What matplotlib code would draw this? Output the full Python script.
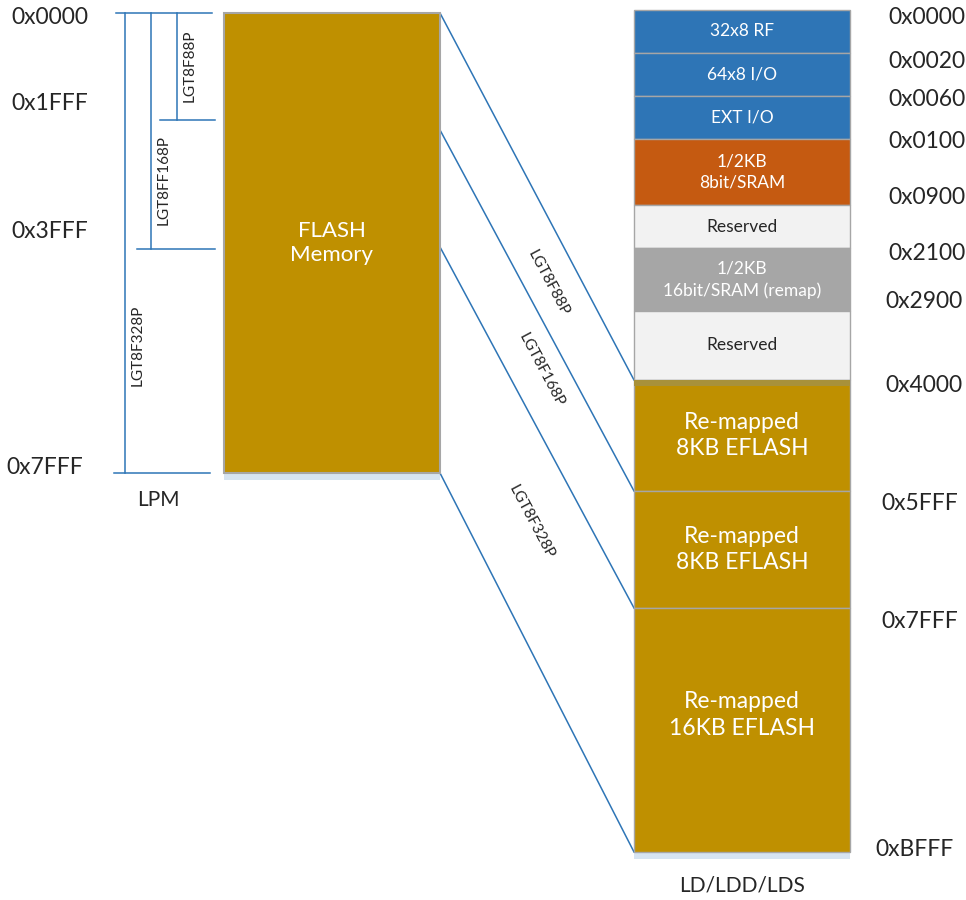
import matplotlib
matplotlib.use("Agg")
import matplotlib.pyplot as plt
from matplotlib.patches import Rectangle

plt.rcParams["font.family"] = ["Lato", "DejaVu Sans"]

# data memory regions (LD/LDD/LDS view)
data_labels = ["32x8 RF", "64x8 I/O", "EXT I/O", "1/2KB\n8bit/SRAM", "Reserved",
               "1/2KB\n16bit/SRAM (remap)", "Reserved",
               "Re-mapped\n8KB EFLASH", "Re-mapped\n8KB EFLASH", "Re-mapped\n16KB EFLASH"]
data_kinds = ["io", "io", "io", "sram", "rsv", "sram16", "rsv", "flash", "flash", "flash"]
data_addrs = ["0x0000", "0x0020", "0x0060", "0x0100", "0x0900", "0x2100", "0x2900",
              "0x4000", "0x5FFF", "0x7FFF", "0xBFFF"]

# program memory (LPM view)
lpm_addrs = ["0x0000", "0x1FFF", "0x3FFF", "0x7FFF"]
parts = ["LGT8F88P", "LGT8FF168P", "LGT8F328P"]
diag_parts = ["LGT8F88P", "LGT8F168P", "LGT8F328P"]

# layout (pixels)
row_edges = [10, 53, 96, 139, 205, 248, 311, 380, 491, 608, 852]
row_text_y = [None] * 9 + [715]
addr_x = [927, 927, 927, 927, 927, 927, 924, 924, 920, 920, 914]
addr_y = [18, 62, 99, 142, 197, 253, 302, 386, 504, 622, 849]
lpm_edges = [13, 120, 249, 473]
lpm_addr_x = [50, 50, 50, 45]
lpm_addr_y = [18, 103, 232, 467]

colors = {"io": "#2E75B6", "sram": "#C55A11", "rsv": "#F2F2F2",
          "sram16": "#A6A6A6", "flash": "#BF9000"}
text_colors = {"io": "white", "sram": "white", "rsv": "#262626",
               "sram16": "white", "flash": "white"}
blue = "#2E75B6"
edge = "#A6A6A6"
strip = "#D6E4F2"
ink = "#262626"

fig = plt.figure(figsize=(9.66, 9.0), dpi=100)
ax = fig.add_axes([0, 0, 1, 1])
ax.set_xlim(0, 966)
ax.set_ylim(900, 0)
ax.axis("off")

# ---- right column: data memory
rx0, rx1 = 634, 850
for i, (lab, kind) in enumerate(zip(data_labels, data_kinds)):
    y0, y1 = row_edges[i], row_edges[i + 1]
    ax.add_patch(Rectangle((rx0, y0), rx1 - rx0, y1 - y0, facecolor=colors[kind],
                           edgecolor=edge, linewidth=1.0, zorder=2))
    big = kind == "flash"
    ty = row_text_y[i] if row_text_y[i] is not None else (y0 + y1) / 2
    ax.text((rx0 + rx1) / 2, ty, lab, ha="center", va="center",
            color=text_colors[kind], fontsize=16.5 if big else 12.5,
            linespacing=1.35 if big else 1.45, zorder=3)
# darker band at top of remapped flash
ax.add_patch(Rectangle((rx0, row_edges[7]), rx1 - rx0, 6, facecolor="#A8913A",
                       edgecolor="none", zorder=2.5))
ax.add_patch(Rectangle((rx0, row_edges[-1]), rx1 - rx0, 7, facecolor=strip,
                       edgecolor="none", zorder=1))

for a, x, y in zip(data_addrs, addr_x, addr_y):
    ax.text(x, y, a, ha="center", va="center", fontsize=16.5, color=ink)
ax.text(742, 886, "LD/LDD/LDS", ha="center", va="center", fontsize=15, color=ink)

# ---- left block: flash
lx0, lx1 = 224, 440
ax.add_patch(Rectangle((lx0, lpm_edges[0]), lx1 - lx0, lpm_edges[-1] - lpm_edges[0],
                       facecolor=colors["flash"], edgecolor=edge, linewidth=1.5, zorder=2))
ax.add_patch(Rectangle((lx0, lpm_edges[-1]), lx1 - lx0, 7, facecolor=strip,
                       edgecolor="none", zorder=1))
ax.text((lx0 + lx1) / 2, 243, "FLASH\nMemory", ha="center", va="center",
        color="white", fontsize=16, linespacing=1.3, zorder=3)

for a, x, y in zip(lpm_addrs, lpm_addr_x, lpm_addr_y):
    ax.text(x, y, a, ha="center", va="center", fontsize=16.5, color=ink)
ax.text(158, 500, "LPM", ha="center", va="center", fontsize=15, color=ink)

# brackets for each part size
lw = 1.1
ax.plot([116, 212], [lpm_edges[0]] * 2, color=blue, lw=lw)
ax.plot([160, 215], [lpm_edges[1]] * 2, color=blue, lw=lw)
ax.plot([137, 215], [lpm_edges[2]] * 2, color=blue, lw=lw)
ax.plot([114, 210], [lpm_edges[3]] * 2, color=blue, lw=lw)
vx = [177, 151, 125]
lab_y = [66, 180, 345]
for i, (p, x) in enumerate(zip(parts, vx)):
    ax.plot([x, x], [lpm_edges[0], lpm_edges[i + 1]], color=blue, lw=lw)
    ax.text(x + 13, lab_y[i], p, rotation=90, ha="center", va="center",
            fontsize=11, color=ink)

# diagonal mapping lines
left_y = [13, 130, 247, 473]
right_y = [380, 491, 608, 852]
for ly, ry in zip(left_y, right_y):
    ax.plot([lx1, rx0], [ly, ry], color=blue, lw=lw, zorder=1.5)
diag_pos = [(548, 283), (541, 370), (531, 522)]
for p, (x, y) in zip(diag_parts, diag_pos):
    ax.text(x, y, p, rotation=-62, ha="center", va="center", fontsize=11,
            color=ink, rotation_mode="anchor")

fig.savefig("out.png", dpi=100)
